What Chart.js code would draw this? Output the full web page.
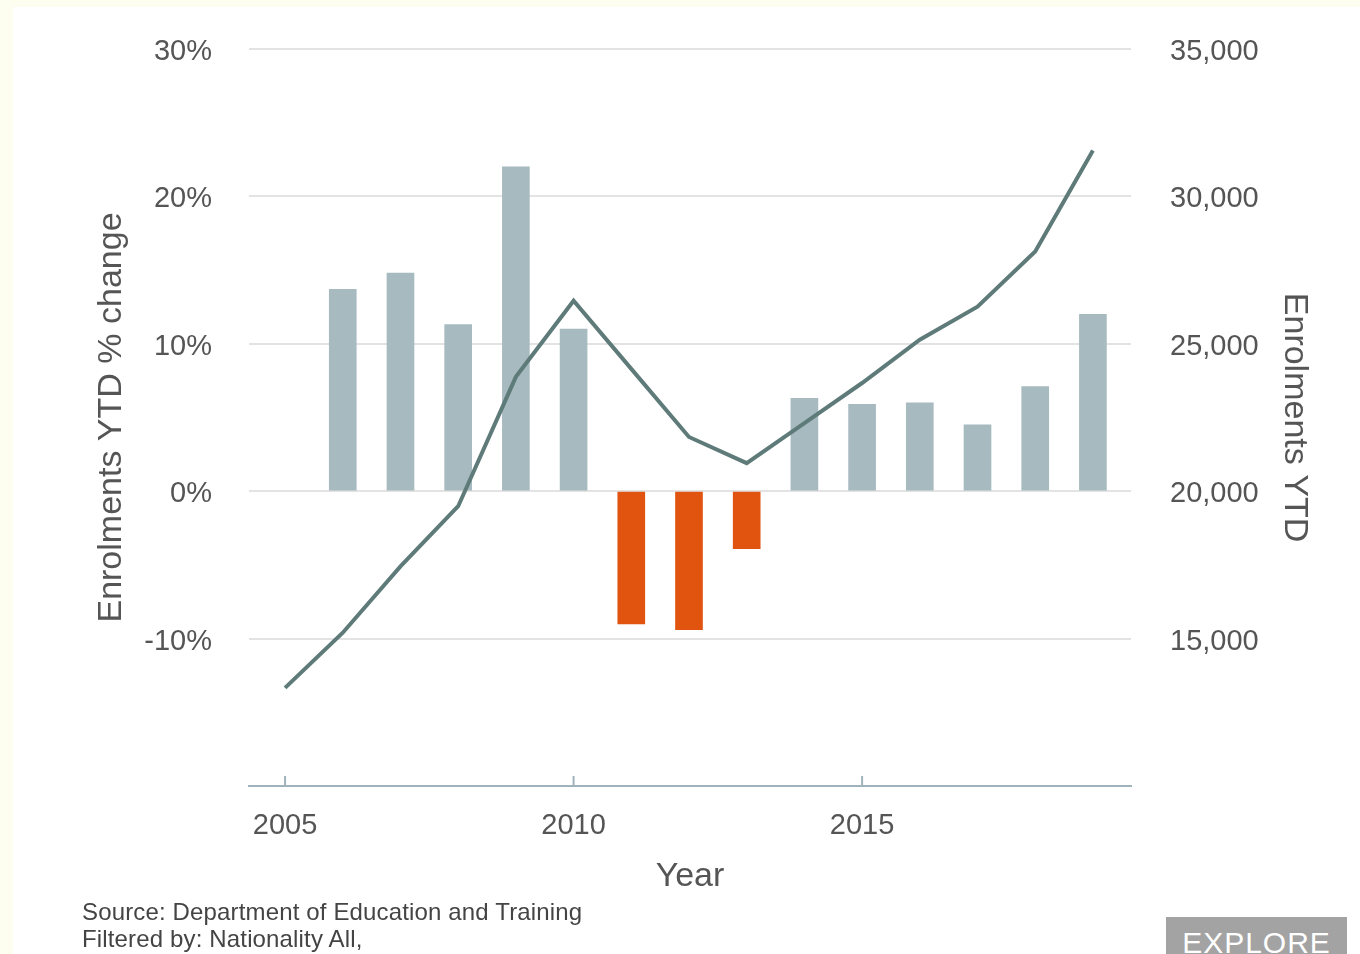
<!DOCTYPE html>
<html>
<head>
<meta charset="utf-8">
<script src="https://cdn.jsdelivr.net/npm/chart.js@4"></script>
<style>
  html, body { margin: 0; padding: 0; }
  body { width: 1360px; height: 954px; background: #fdfdf0; position: relative; overflow: hidden; font-family: "Liberation Sans", Arial, sans-serif; }
  #panel { position: absolute; left: 13px; top: 7px; right: 0; bottom: 0; background: #ffffff; }
  #wrap { position: absolute; left: 0; top: 0; width: 1360px; height: 900px; }
  #source { position: absolute; left: 82px; top: 898px; font-size: 24px; line-height: 27px; color: #444; letter-spacing: 0.15px; }
  #explore { position: absolute; left: 1166px; top: 917px; width: 181px; height: 50px; background: #a3a3a3; color: #fff; font-size: 30px; line-height: 52px; text-align: center; letter-spacing: 1px; }
</style>
</head>
<body>
<div id="panel"></div>
<div id="wrap"><canvas id="c" width="1360" height="900"></canvas></div>
<div id="source">Source: Department of Education and Training<br>Filtered by: Nationality All,</div>
<div id="explore">EXPLORE</div>
<script>
// ---- data ----
const years = [2005, 2006, 2007, 2008, 2009, 2010, 2011, 2012, 2013, 2014, 2015, 2016, 2017, 2018, 2019];
const pctChange = [null, 13.7, 14.8, 11.3, 22.0, 11.0, -9.0, -9.4, -3.9, 6.3, 5.9, 6.0, 4.5, 7.1, 12.0];
const enrolments = [13330, 15200, 17450, 19490, 23880, 26460, 24150, 21840, 20950, 22310, 23670, 25140, 26260, 28130, 31560];
const xTickYears = [2005, 2010, 2015];
const leftTicks = [-20, -10, 0, 10, 20, 30];
const rightTicks = [10000, 15000, 20000, 25000, 30000, 35000];

const barPoints = years.map((y, i) => ({ x: y, y: pctChange[i] })).filter(p => p.y !== null);
const linePoints = years.map((y, i) => ({ x: y, y: enrolments[i] }));

const tickFont = { family: "'Liberation Sans', Arial, sans-serif", size: 29 };
const titleFont = { family: "'Liberation Sans', Arial, sans-serif", size: 34 };

const xTickMarks = {
  id: 'xTickMarks',
  afterDraw(chart) {
    const xs = chart.scales.x, ctx = chart.ctx;
    ctx.save();
    ctx.strokeStyle = '#9fb3bc';
    ctx.lineWidth = 2;
    xTickYears.forEach(v => {
      const px = xs.getPixelForValue(v);
      ctx.beginPath();
      ctx.moveTo(px, chart.chartArea.bottom);
      ctx.lineTo(px, chart.chartArea.bottom - 10);
      ctx.stroke();
    });
    ctx.restore();
  }
};

new Chart(document.getElementById('c'), {
  data: {
    datasets: [
      { type: 'line', data: linePoints, yAxisID: 'y2', borderColor: '#5e7b79', borderWidth: 4, pointRadius: 0, tension: 0, order: 0 },
      { type: 'bar', data: barPoints, yAxisID: 'y', backgroundColor: ctx => (ctx.raw && ctx.raw.y < 0) ? '#e0540f' : '#a6babf', barThickness: 27, order: 1 }
    ]
  },
  options: {
    responsive: false,
    animation: false,
    events: [],
    layout: { padding: { left: 91, right: 45, top: 49, bottom: 0 } },
    plugins: { legend: { display: false }, tooltip: { enabled: false } },
    scales: {
      x: {
        type: 'linear', offset: false, min: 2004.375, max: 2019.66,
        afterBuildTicks: s => { s.ticks = xTickYears.map(v => ({ value: v })); },
        afterFit: s => { s.height = 114; s.paddingLeft = 0; s.paddingRight = 0; },
        ticks: { font: tickFont, color: '#555', padding: 23, callback: v => String(v), maxRotation: 0 },
        grid: { display: false, drawTicks: false, offset: false },
        border: { display: true, color: '#9fb3bc', width: 2 },
        title: { display: true, text: 'Year', font: titleFont, color: '#555', padding: { top: 0, bottom: 3 } }
      },
      y: {
        position: 'left', min: -20, max: 30,
        afterBuildTicks: s => { s.ticks = leftTicks.map(v => ({ value: v })); },
        afterFit: s => { s.width = 158; s.paddingTop = 0; s.paddingBottom = 0; },
        ticks: { font: tickFont, color: '#555', padding: 37, labelOffset: 3, callback: v => v === -20 ? '' : v + '%' },
        grid: { drawTicks: false, color: ctx => (ctx.tick && ctx.tick.value === -20) ? 'rgba(0,0,0,0)' : '#e3e3e3', lineWidth: 2 },
        border: { display: false },
        title: { display: true, text: 'Enrolments YTD % change', font: titleFont, color: '#555', padding: { top: 0, bottom: 0 } }
      },
      y2: {
        position: 'right', min: 10000, max: 35000,
        afterBuildTicks: s => { s.ticks = rightTicks.map(v => ({ value: v })); },
        afterFit: s => { s.width = 184; s.paddingTop = 0; s.paddingBottom = 0; },
        ticks: { font: tickFont, color: '#555', padding: 39, labelOffset: 3, callback: v => v === 10000 ? '' : v.toLocaleString('en-US') },
        grid: { display: false, drawTicks: false },
        border: { display: false },
        title: { display: true, text: 'Enrolments YTD', font: titleFont, color: '#555', padding: { top: 0, bottom: 0 } }
      }
    }
  },
  plugins: [xTickMarks]
});
</script>
</body>
</html>
